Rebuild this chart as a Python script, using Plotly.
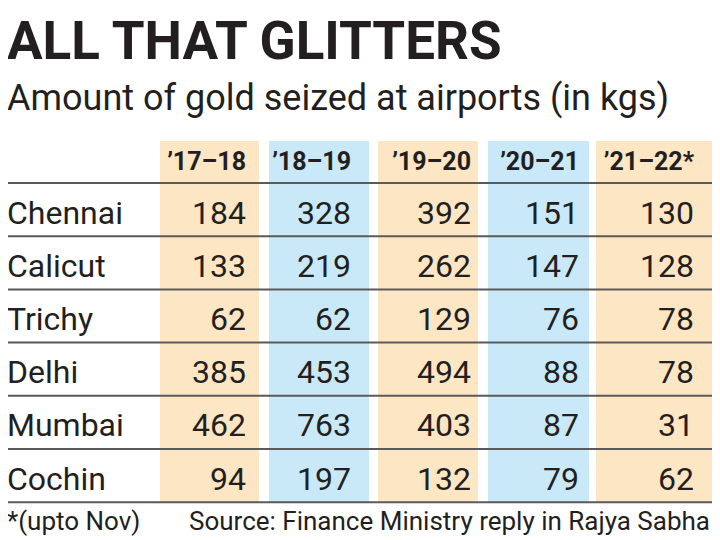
import plotly.graph_objects as go

# ---------------- data ----------------
title = "ALL THAT GLITTERS"
subtitle = "Amount of gold seized at airports (in kgs)"
years = ["’17–18", "’18–19", "’19–20", "’20–21", "’21–22*"]
cities = ["Chennai", "Calicut", "Trichy", "Delhi", "Mumbai", "Cochin"]
v_17_18 = [184, 133, 62, 385, 462, 94]
v_18_19 = [328, 219, 62, 453, 763, 197]
v_19_20 = [392, 262, 129, 494, 403, 132]
v_20_21 = [151, 147, 76, 88, 87, 79]
v_21_22 = [130, 128, 78, 78, 31, 62]
footnote = "*(upto Nov)"
source = "Source: Finance Ministry reply in Rajya Sabha"

series = [v_17_18, v_18_19, v_19_20, v_20_21, v_21_22]

# ---------------- layout / style ----------------
# the page body has an 8px margin, so the figure is 8px smaller and the
# axes are expressed in page pixels
PAGE_W, PAGE_H, BODY_MARGIN = 720, 540, 8
FONT = "Roboto, Liberation Sans, sans-serif"
TXT = "#231f20"
LINE = "#5a5a5a"
BAND_COLORS = ["#FDE6C3", "#C9E8F8", "#FDE6C3", "#C9E8F8", "#FDE6C3"]
BAND_LEFT = [160, 269, 378, 488, 596]
BAND_RIGHT = [259, 369, 478, 589, 712]
TEXT_RIGHT = [246, 351, 471, 579, 694]
BAND_TOP = 141
LINE_Y0 = 183
ROW_H = 53.2
LINE_X0, LINE_X1 = 7, 712
LABEL_X = 7
HEADER_Y = 164
BODY_SIZE = 32
HEAD_SIZE = 25
BODY_DY = 6
NOTE_X = 10       # anchor inside the axis range
NOTE_SHIFT = -5   # pull text back to the left edge

n_rows = len(cities)
row_center = [LINE_Y0 + ROW_H * (i + 0.5) + BODY_DY for i in range(n_rows)]
bottom = LINE_Y0 + ROW_H * n_rows


def font(size, bold=False):
    return dict(family=FONT, size=size, color=TXT,
                weight="bold" if bold else "normal")


fig = go.Figure()

# column bands
fig.add_trace(go.Bar(
    x=[(l + r) / 2 for l, r in zip(BAND_LEFT, BAND_RIGHT)],
    y=[bottom - BAND_TOP] * len(years),
    base=[BAND_TOP] * len(years),
    width=[r - l for l, r in zip(BAND_LEFT, BAND_RIGHT)],
    marker=dict(color=BAND_COLORS, line=dict(width=0)),
    hoverinfo="skip", showlegend=False,
))

# header
fig.add_trace(go.Scatter(
    x=TEXT_RIGHT, y=[HEADER_Y] * len(years), mode="text", text=years,
    textposition="middle left", textfont=font(HEAD_SIZE, True),
    hoverinfo="skip", showlegend=False,
))

# city labels
fig.add_trace(go.Scatter(
    x=[LABEL_X] * n_rows, y=row_center, mode="text", text=cities,
    textposition="middle right", textfont=font(BODY_SIZE),
    hoverinfo="skip", showlegend=False,
))

# values
for j, vals in enumerate(series):
    fig.add_trace(go.Scatter(
        x=[TEXT_RIGHT[j]] * n_rows, y=row_center, mode="text",
        text=[str(v) for v in vals],
        textposition="middle left", textfont=font(BODY_SIZE),
        hoverinfo="skip", showlegend=False,
    ))

# horizontal rules
for k in range(n_rows + 1):
    yy = LINE_Y0 + ROW_H * k
    fig.add_shape(type="line", x0=LINE_X0, x1=LINE_X1, y0=yy, y1=yy,
                  xref="x", yref="y", line=dict(color=LINE, width=2))

# title, subtitle, footer
fig.add_annotation(x=NOTE_X, xshift=NOTE_SHIFT, y=41, xref="x", yref="y",
                   text=title, showarrow=False,
                   xanchor="left", yanchor="middle", font=font(53, True))
fig.add_annotation(x=NOTE_X, xshift=NOTE_SHIFT, y=98, xref="x", yref="y",
                   text=subtitle, showarrow=False,
                   xanchor="left", yanchor="middle", font=font(36))
fig.add_annotation(x=NOTE_X, xshift=NOTE_SHIFT, y=521, xref="x", yref="y",
                   text=footnote, showarrow=False,
                   xanchor="left", yanchor="middle", font=font(26))
fig.add_annotation(x=712, y=521, xref="x", yref="y", text=source, showarrow=False,
                   xanchor="right", yanchor="middle", font=font(26))

fig.update_layout(
    width=PAGE_W - BODY_MARGIN, height=PAGE_H - BODY_MARGIN,
    margin=dict(l=0, r=0, t=0, b=0),
    paper_bgcolor="white", plot_bgcolor="white",
    xaxis=dict(range=[BODY_MARGIN, PAGE_W], visible=False, fixedrange=True),
    yaxis=dict(range=[PAGE_H, BODY_MARGIN], visible=False, fixedrange=True),
    bargap=0,
)

fig.write_html("out.html")
